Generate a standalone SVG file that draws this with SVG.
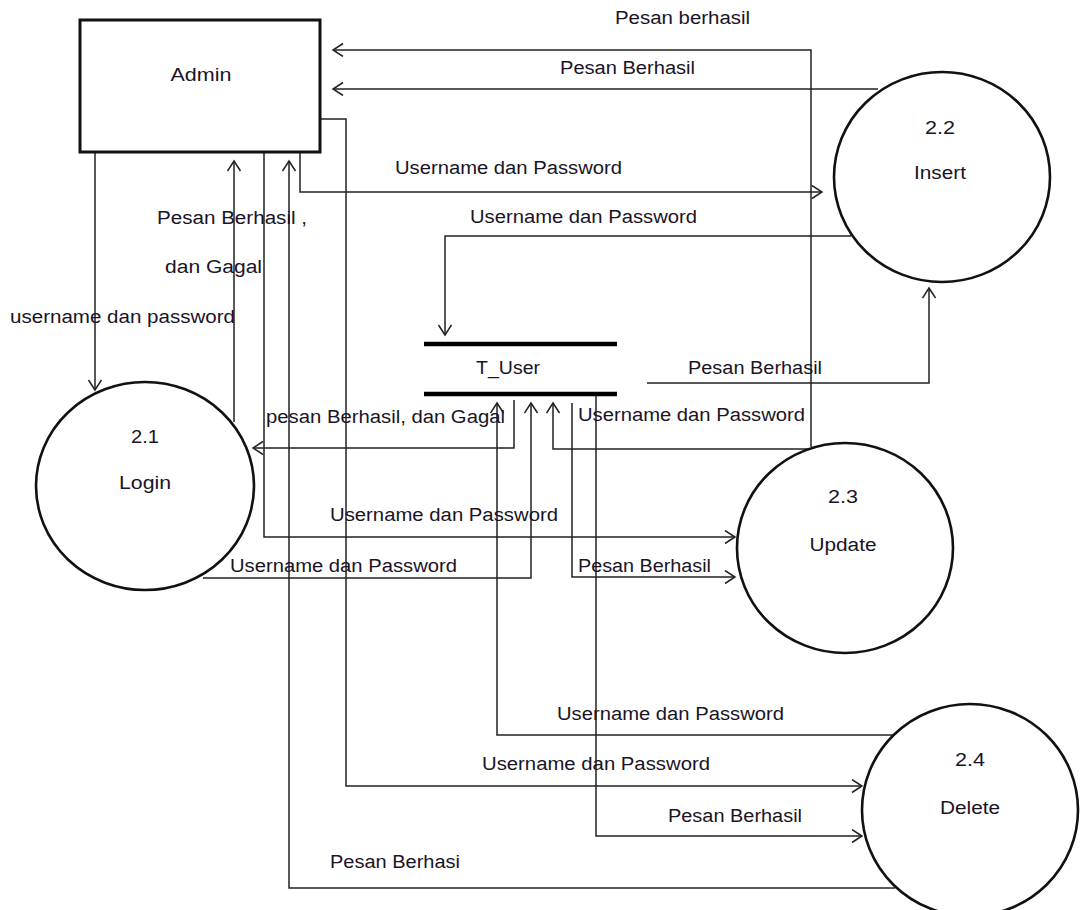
<svg xmlns="http://www.w3.org/2000/svg" width="1083" height="910" viewBox="0 0 1083 910">
<style>
.bg{fill:#fff}
.box{fill:#fff;stroke:#111;stroke-width:3}
.proc{fill:#fff;stroke:#111;stroke-width:2.6}
.store{stroke:#000;stroke-width:4.5}
.flow{fill:none;stroke:#222;stroke-width:1.5}
text{font-family:"Liberation Sans",Arial,sans-serif;font-size:18px;fill:#1a1426}
.c{text-anchor:middle}
</style>
<defs>
<marker id="ah" markerUnits="userSpaceOnUse" markerWidth="14" markerHeight="16" refX="11" refY="7" orient="auto">
<path d="M1,0.5 L11,7 L1,13.5" fill="none" stroke="#222" stroke-width="1.5"/>
</marker>
</defs>
<rect class="bg" x="0" y="0" width="1083" height="910"/>
<g id="connectors">
<path class="flow" d="M811,447 V50 H333" marker-end="url(#ah)"/>
<path class="flow" d="M878,89 H333" marker-end="url(#ah)"/>
<path class="flow" d="M300,152 V192 H822" marker-end="url(#ah)"/>
<path class="flow" d="M851,236 H445 V335" marker-end="url(#ah)"/>
<path class="flow" d="M647,383 H929 V288" marker-end="url(#ah)"/>
<path class="flow" d="M95,152 V390" marker-end="url(#ah)"/>
<path class="flow" d="M234,422 V161" marker-end="url(#ah)"/>
<path class="flow" d="M264,152 V537 H735" marker-end="url(#ah)"/>
<path class="flow" d="M895,888 H289 V161" marker-end="url(#ah)"/>
<path class="flow" d="M320,119 H346 V786 H862" marker-end="url(#ah)"/>
<path class="flow" d="M514,400 V448 H253" marker-end="url(#ah)"/>
<path class="flow" d="M203,578 H531 V403" marker-end="url(#ah)"/>
<path class="flow" d="M893,735 H497 V403" marker-end="url(#ah)"/>
<path class="flow" d="M811,449 H553 V403" marker-end="url(#ah)"/>
<path class="flow" d="M572,403 V577 H735" marker-end="url(#ah)"/>
<path class="flow" d="M596,395 V836 H862" marker-end="url(#ah)"/>
</g>
<g id="labels">
<text x="615" y="24" textLength="135" lengthAdjust="spacingAndGlyphs">Pesan berhasil</text>
<text x="560" y="74" textLength="135" lengthAdjust="spacingAndGlyphs">Pesan Berhasil</text>
<text x="395" y="174" textLength="227" lengthAdjust="spacingAndGlyphs">Username dan Password</text>
<text x="470" y="223" textLength="227" lengthAdjust="spacingAndGlyphs">Username dan Password</text>
<text x="157" y="224" textLength="150" lengthAdjust="spacingAndGlyphs">Pesan Berhasil ,</text>
<text x="165" y="273" textLength="97" lengthAdjust="spacingAndGlyphs">dan Gagal</text>
<text x="10" y="323" textLength="225" lengthAdjust="spacingAndGlyphs">username dan password</text>
<text x="688" y="374" textLength="134" lengthAdjust="spacingAndGlyphs">Pesan Berhasil</text>
<text x="266" y="423" textLength="239" lengthAdjust="spacingAndGlyphs">pesan Berhasil, dan Gagal</text>
<text x="578" y="421" textLength="227" lengthAdjust="spacingAndGlyphs">Username dan Password</text>
<text x="330" y="521" textLength="228" lengthAdjust="spacingAndGlyphs">Username dan Password</text>
<text x="230" y="572" textLength="227" lengthAdjust="spacingAndGlyphs">Username dan Password</text>
<text x="578" y="572" textLength="133" lengthAdjust="spacingAndGlyphs">Pesan Berhasil</text>
<text x="557" y="720" textLength="227" lengthAdjust="spacingAndGlyphs">Username dan Password</text>
<text x="482" y="770" textLength="228" lengthAdjust="spacingAndGlyphs">Username dan Password</text>
<text x="668" y="822" textLength="134" lengthAdjust="spacingAndGlyphs">Pesan Berhasil</text>
<text x="330" y="868" textLength="130" lengthAdjust="spacingAndGlyphs">Pesan Berhasi</text>
</g>
<g id="admin">
<rect class="box" x="80" y="20" width="240" height="132"/>
<text class="c" x="201" y="81" textLength="61" lengthAdjust="spacingAndGlyphs">Admin</text>
</g>
<g id="t_user">
<line class="store" x1="424" y1="344" x2="617" y2="344"/>
<line class="store" x1="424" y1="394" x2="617" y2="394"/>
<text x="476" y="374" textLength="64" lengthAdjust="spacingAndGlyphs">T_User</text>
</g>
<g id="p21">
<ellipse class="proc" cx="145" cy="486" rx="109" ry="104"/>
<text class="c" x="145" y="443" textLength="28" lengthAdjust="spacingAndGlyphs">2.1</text>
<text class="c" x="145" y="489" textLength="52" lengthAdjust="spacingAndGlyphs">Login</text>
</g>
<g id="p22">
<ellipse class="proc" cx="942" cy="177" rx="108" ry="105"/>
<text class="c" x="940" y="134" textLength="30" lengthAdjust="spacingAndGlyphs">2.2</text>
<text class="c" x="940" y="179" textLength="52" lengthAdjust="spacingAndGlyphs">Insert</text>
</g>
<g id="p23">
<ellipse class="proc" cx="845" cy="548" rx="108" ry="105"/>
<text class="c" x="843" y="503" textLength="30" lengthAdjust="spacingAndGlyphs">2.3</text>
<text class="c" x="843" y="551" textLength="67" lengthAdjust="spacingAndGlyphs">Update</text>
</g>
<g id="p24">
<ellipse class="proc" cx="970" cy="810" rx="108" ry="106"/>
<text class="c" x="970" y="766" textLength="30" lengthAdjust="spacingAndGlyphs">2.4</text>
<text class="c" x="970" y="814" textLength="60" lengthAdjust="spacingAndGlyphs">Delete</text>
</g>
</svg>
